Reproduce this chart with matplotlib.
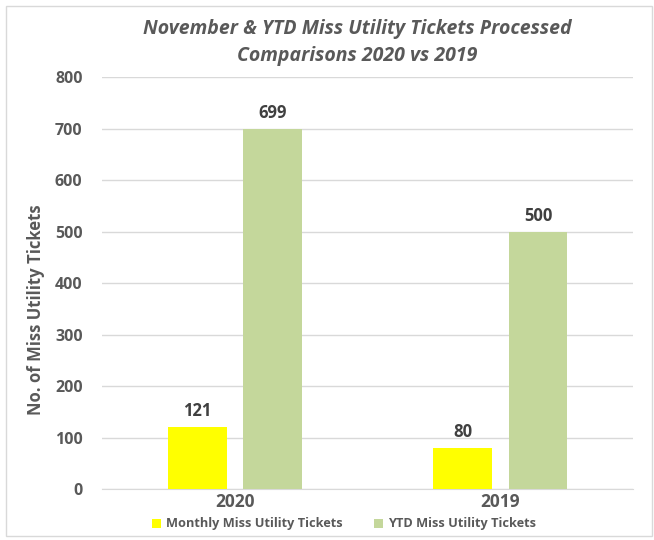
import numpy as np
import matplotlib.pyplot as plt
from matplotlib.patches import Rectangle

years = ['2020', '2019']
monthly = [121, 80]
ytd = [699, 500]
series_names = ['Monthly Miss Utility Tickets', 'YTD Miss Utility Tickets']
yticks = [0, 100, 200, 300, 400, 500, 600, 700, 800]

plt.rcParams['font.family'] = ['Open Sans', 'DejaVu Sans']
txt = '#595959'

fig = plt.figure(figsize=(6.54, 5.4), dpi=100)
ax = fig.add_axes([0.156, 0.0944, 0.812, 0.7626])

x = np.arange(len(years))
off, w = 0.142, 0.222
b1 = ax.bar(x - off, monthly, w, color='#FFFF00', label=series_names[0], zorder=3)
b2 = ax.bar(x + off, ytd, w, color='#C4D79B', label=series_names[1], zorder=3)

for bars in (b1, b2):
	for r in bars:
		ax.annotate(f'{int(r.get_height())}', (r.get_x() + r.get_width() / 2, r.get_height()),
			xytext=(0, 5), textcoords='offset points', ha='center', va='bottom',
			fontsize=12, fontweight='bold', color='#404040')

ax.set_xlim(-0.5, 1.5)
ax.set_ylim(0, 800)
ax.set_yticks(yticks)
ax.set_yticklabels([str(v) for v in yticks], fontsize=11.5, fontweight='bold', color=txt)
ax.set_xticks(x)
ax.set_xticklabels(years, fontsize=12.5, fontweight='bold', color=txt)
ax.tick_params(length=0, pad=14)
ax.tick_params(axis='x', pad=3)
ax.grid(axis='y', color='#D9D9D9', linewidth=1, zorder=0)
for s in ['top', 'right', 'left']:
	ax.spines[s].set_visible(False)
ax.spines['bottom'].set_color('#D9D9D9')

fig.text(36 / 654, 1 - 310 / 540, 'No. of Miss Utility Tickets', rotation=90, ha='center', va='center',
	fontsize=12, fontweight='bold', color=txt)
fig.text(357 / 654, 1 - 29 / 540, 'November & YTD Miss Utility Tickets Processed', ha='center', va='center',
	fontsize=14, fontweight='bold', fontstyle='italic', color=txt)
fig.text(357 / 654, 1 - 56 / 540, 'Comparisons 2020 vs 2019', ha='center', va='center',
	fontsize=14, fontweight='bold', fontstyle='italic', color=txt)

leg = fig.legend(handles=[b1, b2], loc='center', bbox_to_anchor=(344 / 654, 1 - 524 / 540), ncol=2,
	frameon=False, fontsize=9.2, handlelength=0.7, handleheight=0.7, columnspacing=2.4, handletextpad=0.4)
for t in leg.get_texts():
	t.set_color(txt)
	t.set_fontweight('bold')

fig.patches.append(Rectangle((6 / 654, 4 / 540), 646 / 654, 530 / 540, transform=fig.transFigure,
	fill=False, edgecolor='#D9D9D9', linewidth=1))

fig.savefig('out.png', dpi=100)
